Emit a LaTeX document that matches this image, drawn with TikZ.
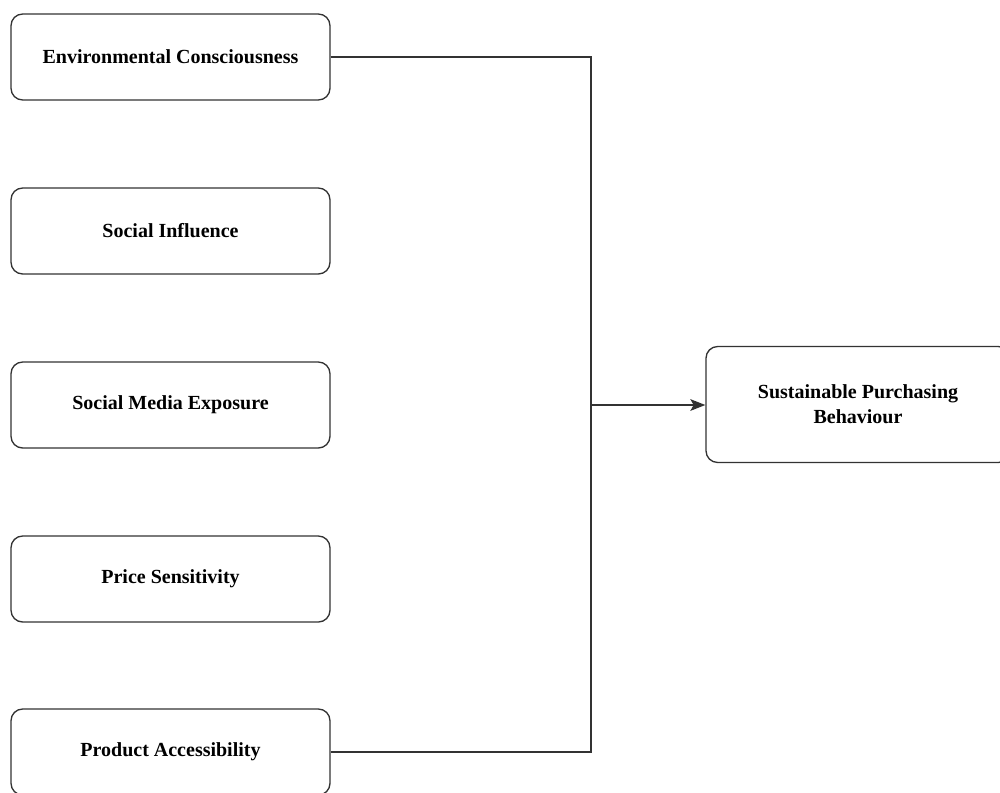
\documentclass[tikz,border=0pt]{standalone}
\usepackage{fontspec}
\setmainfont{Liberation Serif}
\usetikzlibrary{arrows.meta}
\begin{document}
\begin{tikzpicture}[x=0.6pt,y=-0.6pt,
  factor/.style={draw=black!80, line width=0.8pt, rounded corners=7pt,
    minimum width=191.4pt, minimum height=51.6pt, align=center,
    font=\fontsize{12}{15}\selectfont\bfseries, inner sep=0pt},
  outcome/.style={factor, minimum width=182.4pt, minimum height=69.6pt},
  link/.style={draw=black!80, line width=0.8pt}]
\clip (0,0) rectangle (1000,792);
\fill[white] (0,0) rectangle (1000,792);
\node[factor] (e1) at (170.5,57) {Environmental Consciousness};
\node[factor] (e2) at (170.5,231) {Social Influence};
\node[factor] (e3) at (170.5,405) {Social Media Exposure};
\node[factor] (e4) at (170.5,579) {Price Sensitivity};
\node[factor] (e5) at (170.5,752) {Product Accessibility};
\node[outcome] (spb) at (858,404.5) {Sustainable Purchasing\\Behaviour};
\coordinate (j) at (591,405);
\draw[link] (e1.east) -| (j) |- (e5.east);
\draw[link,-{Stealth[length=9pt,width=7pt,inset=2pt]}] (j) -- (spb.west |- j);
\end{tikzpicture}
\end{document}
